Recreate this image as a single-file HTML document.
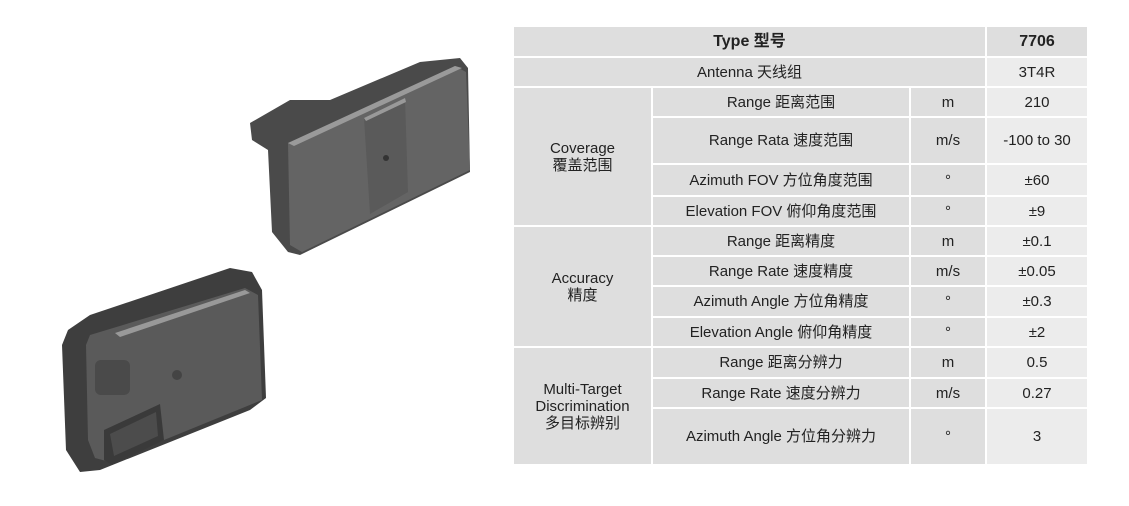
<!DOCTYPE html>
<html><head><meta charset="utf-8"><style>
body{margin:0;width:1129px;height:506px;background:#fff;position:relative;overflow:hidden;font-family:"Liberation Sans","Noto Sans CJK SC",sans-serif;}
.c{position:absolute;display:flex;align-items:center;justify-content:center;text-align:center;font-size:15px;color:#222;background:#dedede;box-sizing:border-box;border-right:2px solid #fff;border-bottom:2px solid #fff;line-height:17px;}
.v{background:#ececec;border-right:none}
.b{font-weight:bold;font-size:16px}
</style></head><body>
<svg width="500" height="506" style="position:absolute;left:0;top:0">
<!-- upper device -->
<polygon points="250,123 290,100 330,100 420,62 460,58 468,68 470,172 300,255 288,252 272,232 268,150 252,140" fill="#4a4a4a"/>
<polygon points="288,143 455,66 466,72 470,170 302,252 290,245" fill="#646464"/>
<polygon points="288,143 455,66 462,68 294,146" fill="#9a9a9a"/>
<polygon points="364,118 405,98 408,192 370,214" fill="#5a5a5a"/>
<polygon points="364,118 405,98 406,102 366,121" fill="#999"/>
<circle cx="386" cy="158" r="3" fill="#333"/>
<!-- lower device -->
<polygon points="68,330 90,315 230,268 252,272 262,290 266,398 250,410 100,470 80,472 66,450 62,345" fill="#3e3e3e"/>
<polygon points="90,335 245,288 258,295 262,400 110,462 95,458 88,440 86,345" fill="#5a5a5a"/>
<polygon points="115,333 245,290 250,293 120,337" fill="#999"/>
<rect x="95" y="360" width="35" height="35" rx="6" fill="#4a4a4a"/>
<polygon points="104,430 160,404 164,440 112,465 104,460" fill="#3a3a3a"/>
<polygon points="110,434 156,412 158,436 114,456" fill="#4c4c4c"/>
<circle cx="177" cy="375" r="5" fill="#444"/>
</svg>
<div class="c b" style="left:514px;top:27px;width:473px;height:31px">Type 型号</div>
<div class="c v b" style="left:987px;top:27px;width:100px;height:31px;background:#dedede">7706</div>
<div class="c" style="left:514px;top:58px;width:473px;height:30px">Antenna 天线组</div>
<div class="c v" style="left:987px;top:58px;width:100px;height:30px">3T4R</div>

<div class="c" style="left:514px;top:88px;width:139px;height:139px">Coverage<br>覆盖范围</div>
<div class="c" style="left:514px;top:227px;width:139px;height:121px">Accuracy<br>精度</div>
<div class="c" style="left:514px;top:348px;width:139px;height:116px;border-bottom:none">Multi-Target<br>Discrimination<br>多目标辨别</div>

<div class="c" style="left:653px;top:88px;width:258px;height:30px">Range 距离范围</div><div class="c" style="left:911px;top:88px;width:76px;height:30px">m</div><div class="c v" style="left:987px;top:88px;width:100px;height:30px">210</div>
<div class="c" style="left:653px;top:118px;width:258px;height:47px">Range Rata 速度范围</div><div class="c" style="left:911px;top:118px;width:76px;height:47px">m/s</div><div class="c v" style="left:987px;top:118px;width:100px;height:47px">-100 to 30</div>
<div class="c" style="left:653px;top:165px;width:258px;height:32px">Azimuth FOV 方位角度范围</div><div class="c" style="left:911px;top:165px;width:76px;height:32px">°</div><div class="c v" style="left:987px;top:165px;width:100px;height:32px">±60</div>
<div class="c" style="left:653px;top:197px;width:258px;height:30px">Elevation FOV 俯仰角度范围</div><div class="c" style="left:911px;top:197px;width:76px;height:30px">°</div><div class="c v" style="left:987px;top:197px;width:100px;height:30px">±9</div>

<div class="c" style="left:653px;top:227px;width:258px;height:30px">Range 距离精度</div><div class="c" style="left:911px;top:227px;width:76px;height:30px">m</div><div class="c v" style="left:987px;top:227px;width:100px;height:30px">±0.1</div>
<div class="c" style="left:653px;top:257px;width:258px;height:30px">Range Rate 速度精度</div><div class="c" style="left:911px;top:257px;width:76px;height:30px">m/s</div><div class="c v" style="left:987px;top:257px;width:100px;height:30px">±0.05</div>
<div class="c" style="left:653px;top:287px;width:258px;height:31px">Azimuth Angle 方位角精度</div><div class="c" style="left:911px;top:287px;width:76px;height:31px">°</div><div class="c v" style="left:987px;top:287px;width:100px;height:31px">±0.3</div>
<div class="c" style="left:653px;top:318px;width:258px;height:30px">Elevation Angle 俯仰角精度</div><div class="c" style="left:911px;top:318px;width:76px;height:30px">°</div><div class="c v" style="left:987px;top:318px;width:100px;height:30px">±2</div>

<div class="c" style="left:653px;top:348px;width:258px;height:31px">Range 距离分辨力</div><div class="c" style="left:911px;top:348px;width:76px;height:31px">m</div><div class="c v" style="left:987px;top:348px;width:100px;height:31px">0.5</div>
<div class="c" style="left:653px;top:379px;width:258px;height:30px">Range Rate 速度分辨力</div><div class="c" style="left:911px;top:379px;width:76px;height:30px">m/s</div><div class="c v" style="left:987px;top:379px;width:100px;height:30px">0.27</div>
<div class="c" style="left:653px;top:409px;width:258px;height:55px;border-bottom:none">Azimuth Angle 方位角分辨力</div><div class="c" style="left:911px;top:409px;width:76px;height:55px;border-bottom:none">°</div><div class="c v" style="left:987px;top:409px;width:100px;height:55px;border-bottom:none">3</div>
</body></html>
